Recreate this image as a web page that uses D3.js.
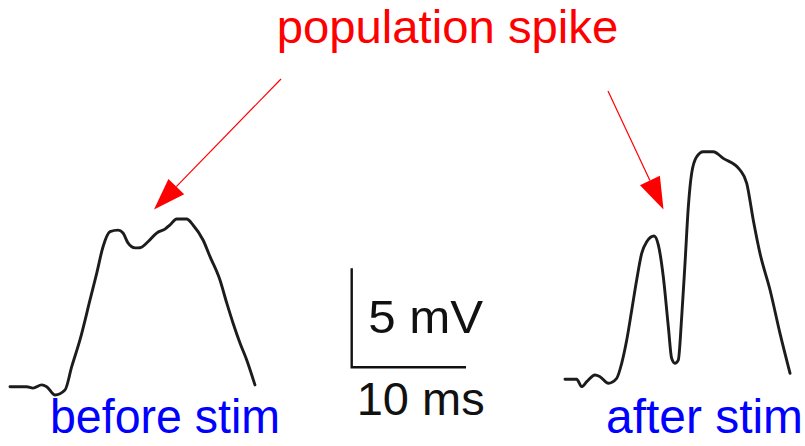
<!DOCTYPE html>
<html>
<head>
<meta charset="utf-8">
<script src="https://cdn.jsdelivr.net/npm/d3@7"></script>
<style>
  body { margin: 0; background: #fff; }
  text { font-family: "Liberation Sans", Arial, Helvetica, sans-serif; }
</style>
</head>
<body>
<div class="chart"></div>
<script>
var svgWidth = 805;
var svgHeight = 446;

// traces, time in ms from trace start, voltage in mV above baseline
var beforeTime = [0, 1.46, 2.01, 2.77, 3.21, 3.94, 4.81, 5.40, 6.12, 7.00, 7.59, 8.14, 8.75, 9.45, 9.89, 10.32,
    10.94, 11.37, 12.07, 12.83, 13.56, 14.0, 14.58, 15.46, 16.01, 16.89, 17.5, 18.37, 18.96, 19.51, 20.12, 20.71, 21.43];
var beforeVolt = [0, 0, -0.07, 0.09, 0, -0.42, -0.17, 1.01, 2.36, 4.38, 5.74, 7.07, 7.83, 7.91, 7.76, 7.26,
    7.01, 7.02, 7.32, 7.76, 7.96, 8.17, 8.47, 8.47, 8.17, 7.41, 6.57, 5.39, 4.23, 3.22, 2.21, 1.35, 0.09];

var afterTime = [0, 1.02, 1.46, 1.90, 2.62, 3.06, 3.79, 4.52, 4.96, 5.40, 5.84, 6.27, 6.71, 7.15, 7.79, 8.17,
    8.60, 9.04, 9.33, 9.62, 9.91, 10.21, 10.5, 10.79, 11.08, 11.52, 12.10, 12.97, 13.85, 15.31, 15.9, 16.47,
    17.06, 17.94, 18.81, 19.69];
var afterVolt = [0, 0, -0.37, -0.12, 0.22, 0.13, -0.2, 0.05, 0.81, 1.98, 3.5, 5.02, 6.36, 6.95, 7.24, 6.78,
    5.18, 2.66, 1.06, 0.81, 0.97, 3.16, 5.86, 8.72, 10.4, 11.24, 11.49, 11.49, 11.16, 10.57, 9.9, 8.05,
    6.36, 4.51, 2.32, 0.3];

// scale bar
var barTime = 10;
var barVolt = 5;

var svg = d3.select(".chart")
    .append("svg")
    .attr("width", svgWidth)
    .attr("height", svgHeight);

// 10 ms -> 114 px, 5 mV -> 99 px
var xScale = d3.scaleLinear().domain([0, 10]).range([0, 114.3]);
var yScale = d3.scaleLinear().domain([0, 5]).range([0, -99]);

var line = d3.line()
    .curve(d3.curveMonotoneX)
    .x(d => xScale(d[0]))
    .y(d => yScale(d[1]));

function drawTrace(times, volts, x0, y0) {
    var pts = d3.zip(times, volts);
    svg.append("g")
        .attr("transform", `translate(${x0}, ${y0})`)
        .append("path")
        .datum(pts)
        .attr("d", line)
        .attr("fill", "none")
        .attr("stroke", "#1c1c1c")
        .attr("stroke-width", 2.9)
        .attr("stroke-linejoin", "round")
        .attr("stroke-linecap", "round");
}

drawTrace(beforeTime, beforeVolt, 10, 386.7);
drawTrace(afterTime, afterVolt, 565, 379.3);

// scale bar
var bar = svg.append("g").attr("transform", "translate(351.7, 367.3)");
bar.append("path")
    .attr("d", `M0,${yScale(barVolt)}V0H${xScale(barTime)}`)
    .attr("fill", "none")
    .attr("stroke", "#111")
    .attr("stroke-width", 2.4);

bar.append("text")
    .attr("x", 16.5).attr("y", -34.5)
    .attr("font-size", 47)
    .attr("textLength", 115).attr("lengthAdjust", "spacingAndGlyphs")
    .attr("fill", "#111")
    .text(barVolt + " mV");

bar.append("text")
    .attr("x", 5).attr("y", 47.5)
    .attr("font-size", 47)
    .attr("textLength", 128).attr("lengthAdjust", "spacingAndGlyphs")
    .attr("fill", "#111")
    .text(barTime + " ms");

// labels
svg.append("text")
    .attr("x", 276.7).attr("y", 43.3)
    .attr("font-size", 47)
    .attr("textLength", 341.6).attr("lengthAdjust", "spacingAndGlyphs")
    .attr("fill", "#ff0000")
    .text("population spike");

svg.append("text")
    .attr("x", 50).attr("y", 433.3)
    .attr("font-size", 48)
    .attr("textLength", 230).attr("lengthAdjust", "spacingAndGlyphs")
    .attr("fill", "#0000ff")
    .text("before stim");

svg.append("text")
    .attr("x", 606).attr("y", 432.7)
    .attr("font-size", 48)
    .attr("textLength", 197).attr("lengthAdjust", "spacingAndGlyphs")
    .attr("fill", "#0000ff")
    .text("after stim");

// arrows
function arrow(x1, y1, x2, y2) {
    var ang = Math.atan2(y2 - y1, x2 - x1);
    var len = 32, half = 11;
    var bx = x2 - len * Math.cos(ang), by = y2 - len * Math.sin(ang);
    svg.append("line")
        .attr("x1", x1).attr("y1", y1)
        .attr("x2", bx).attr("y2", by)
        .attr("stroke", "#ff0000")
        .attr("stroke-width", 1.2);
    var px = -Math.sin(ang) * half, py = Math.cos(ang) * half;
    svg.append("polygon")
        .attr("points", [[x2, y2], [bx + px, by + py], [bx - px, by - py]].map(p => p.join(",")).join(" "))
        .attr("fill", "#ff0000");
}

arrow(281, 79, 154, 209.5);
arrow(608, 91, 663.5, 209.5);
</script>
</body>
</html>
